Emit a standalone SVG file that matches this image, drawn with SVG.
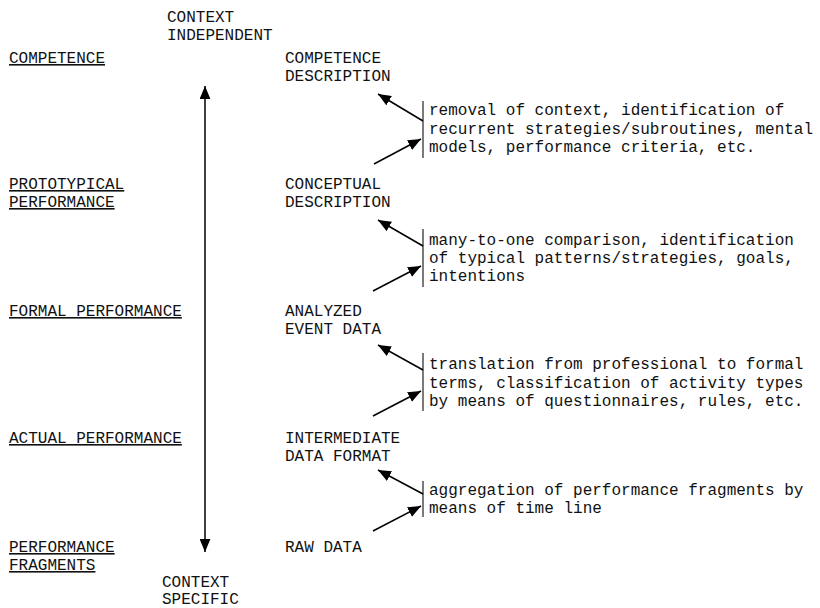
<svg xmlns="http://www.w3.org/2000/svg" width="820" height="608" viewBox="0 0 820 608">
  <defs>
    <style>
      text { font-family: "Liberation Mono", "Courier New", monospace; font-size: 16px; fill: #111; }
      .level { text-decoration: underline; }
      .conn { stroke: #000; stroke-width: 1.5; fill: none; }
      .bar { stroke: #333; stroke-width: 1.3; fill: none; }
    </style>
    <marker id="head" viewBox="0 0 12 10" refX="12" refY="5" markerWidth="13" markerHeight="11" markerUnits="userSpaceOnUse" orient="auto-start-reverse">
      <path d="M0,0 L12,5 L0,10 Z" fill="#000"/>
    </marker>
  </defs>
  <rect width="820" height="608" fill="#fff"/>

  <!-- Axis labels -->
  <g id="context-independent">
    <text x="167" y="22">CONTEXT</text>
    <text x="167" y="40">INDEPENDENT</text>
  </g>
  <g id="context-specific">
    <text x="162" y="587">CONTEXT</text>
    <text x="162" y="604">SPECIFIC</text>
  </g>

  <!-- Performance levels (left column) -->
  <g id="level-competence"><text class="level" x="9" y="63">COMPETENCE</text></g>
  <g id="level-prototypical">
    <text class="level" x="9" y="189">PROTOTYPICAL</text>
    <text class="level" x="9" y="207">PERFORMANCE</text>
  </g>
  <g id="level-formal"><text class="level" x="9" y="316">FORMAL PERFORMANCE</text></g>
  <g id="level-actual"><text class="level" x="9" y="443">ACTUAL PERFORMANCE</text></g>
  <g id="level-fragments">
    <text class="level" x="9" y="552">PERFORMANCE</text>
    <text class="level" x="9" y="570">FRAGMENTS</text>
  </g>

  <!-- Data representations (middle column) -->
  <g id="data-competence">
    <text x="285" y="63">COMPETENCE</text>
    <text x="285" y="81">DESCRIPTION</text>
  </g>
  <g id="data-conceptual">
    <text x="285" y="189">CONCEPTUAL</text>
    <text x="285" y="207">DESCRIPTION</text>
  </g>
  <g id="data-analyzed">
    <text x="285" y="316">ANALYZED</text>
    <text x="285" y="334">EVENT DATA</text>
  </g>
  <g id="data-intermediate">
    <text x="285" y="443">INTERMEDIATE</text>
    <text x="285" y="461">DATA FORMAT</text>
  </g>
  <g id="data-raw">
    <text x="285" y="552">RAW DATA</text>
  </g>

  <!-- Transformation notes (right column) -->
  <g id="step-removal">
    <line class="bar" x1="423" y1="101" x2="423" y2="158"/>
    <text x="429" y="115">removal of context, identification of</text>
    <text x="429" y="133.5">recurrent strategies/subroutines, mental</text>
    <text x="429" y="152">models, performance criteria, etc.</text>
  </g>
  <g id="step-comparison">
    <line class="bar" x1="423" y1="229" x2="423" y2="287"/>
    <text x="429" y="245">many-to-one comparison, identification</text>
    <text x="429" y="263">of typical patterns/strategies, goals,</text>
    <text x="429" y="281">intentions</text>
  </g>
  <g id="step-translation">
    <line class="bar" x1="423" y1="353" x2="423" y2="411"/>
    <text x="429" y="369">translation from professional to formal</text>
    <text x="429" y="387.5">terms, classification of activity types</text>
    <text x="429" y="406">by means of questionnaires, rules, etc.</text>
  </g>
  <g id="step-aggregation">
    <line class="bar" x1="423" y1="481" x2="423" y2="517"/>
    <text x="429" y="495">aggregation of performance fragments by</text>
    <text x="429" y="513">means of time line</text>
  </g>

  <!-- Connectors -->
  <g id="connectors">
    <line class="conn" x1="205" y1="86" x2="205" y2="552" marker-start="url(#head)" marker-end="url(#head)"/>

    <line class="conn" x1="423" y1="121" x2="378" y2="94" marker-end="url(#head)"/>
    <line class="conn" x1="374" y1="164" x2="421" y2="139" marker-end="url(#head)"/>

    <line class="conn" x1="423" y1="246" x2="378" y2="220" marker-end="url(#head)"/>
    <line class="conn" x1="373" y1="291" x2="421" y2="266" marker-end="url(#head)"/>

    <line class="conn" x1="423" y1="370" x2="378" y2="345" marker-end="url(#head)"/>
    <line class="conn" x1="373" y1="416" x2="421" y2="391" marker-end="url(#head)"/>

    <line class="conn" x1="423" y1="494" x2="378" y2="470" marker-end="url(#head)"/>
    <line class="conn" x1="373" y1="531" x2="421" y2="506" marker-end="url(#head)"/>
  </g>
</svg>
